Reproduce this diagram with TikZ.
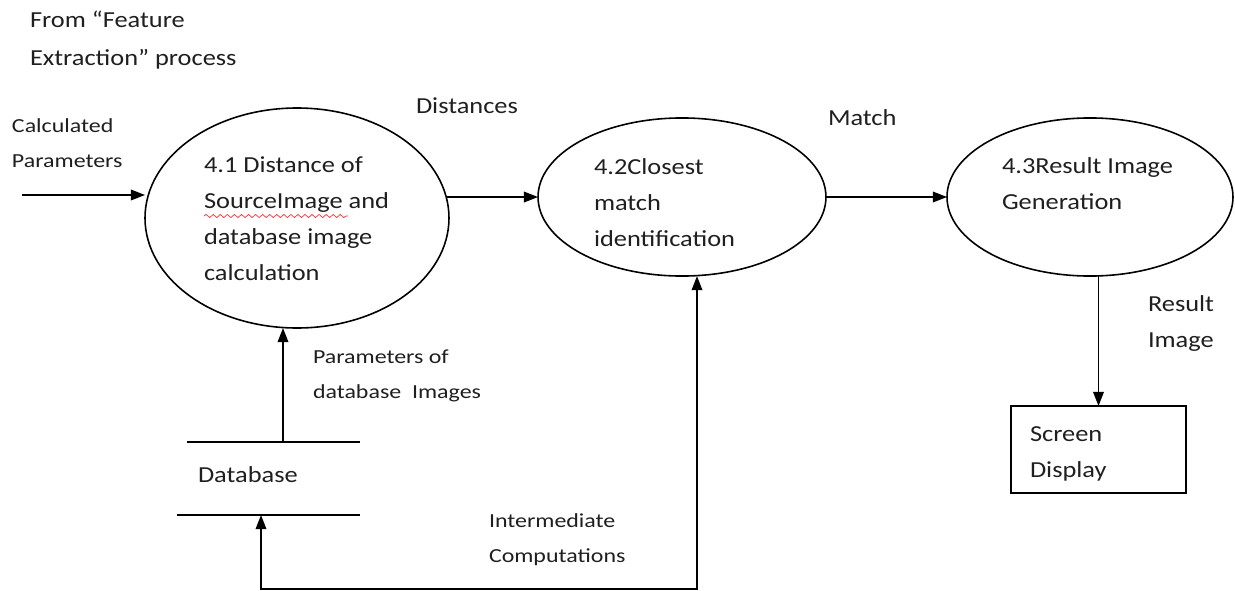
\documentclass[tikz,border=0pt]{standalone}
\usepackage{fontspec}
\setmainfont{Carlito}
\newfontfamily\mainlbl[FakeStretch=1.15]{Carlito}
\newfontfamily\smalllbl[FakeStretch=1.2]{Carlito}
\usetikzlibrary{shapes.geometric,arrows.meta,decorations.pathmorphing,calc}
\begin{document}
\begin{tikzpicture}[x=0.5668pt,y=-0.5668pt,
  every node/.style={inner sep=0pt,outer sep=0pt},
  % multi-line labels are placed by the baseline of their last line
  lbl/.style={anchor=base west,align=left,text=black!88,
    font=\mainlbl\fontsize{13}{20.4}\selectfont},
  slbl/.style={anchor=base west,align=left,text=black!88,
    font=\smalllbl\fontsize{11.3}{19.8}\selectfont},
  proc/.style={draw,ellipse,line width=0.9pt},
  store/.style={line width=0.9pt},
  tip/.style={Triangle[length=8pt,width=6pt]},
  flow/.style={line width=0.9pt,-{Triangle[length=8pt,width=6pt]}},
  twoway/.style={line width=0.9pt,{Triangle[length=8pt,width=6pt]}-{Triangle[length=8pt,width=6pt]}}
]
\useasboundingbox (0,0) rectangle (1235,591);

% processes
\node[proc,minimum width=172.3pt,minimum height=124.7pt] (p1) at (297,218) {};
\node[proc,minimum width=163.2pt,minimum height=89.6pt] (p2) at (682,197) {};
\node[proc,minimum width=162.1pt,minimum height=89.6pt] (p3) at (1090,197) {};

% process texts
\node[lbl] (t1) at (204,280) {4.1 Distance of\\SourceImage and\\database image\\calculation};
\node[lbl] (t2) at (594,246) {4.2Closest\\match\\identification};
\node[lbl] (t3) at (1002,209) {4.3Result Image\\Generation};
\draw[red!80,line width=0.4pt,decorate,decoration={snake,amplitude=0.9,segment length=4}]
  (204,216) -- (348,216);

% terminator
\node[draw,line width=0.9pt,minimum width=99.2pt,minimum height=49.3pt] (sd) at (1098.5,449.5) {};
\node[lbl] (tsd) at (1030,477) {Screen\\Display};

% data store
\coordinate (dbtl) at (187,442);
\coordinate (dbtr) at (360,442);
\coordinate (dbbl) at (177,515);
\coordinate (dbbr) at (360,515);
\draw[store] (dbtl) -- (dbtr);
\draw[store] (dbbl) -- (dbbr);
\node[lbl] (db) at (198,482) {Database};

% flow labels
\node[lbl,font=\mainlbl\fontsize{13}{21}\selectfont] (src) at (30,65) {From “Feature\\Extraction” process};
\node[slbl] (lcalc) at (12,167) {Calculated\\Parameters};
\node[lbl] (ldist) at (416,113) {Distances};
\node[lbl] (lmatch) at (828,125) {Match};
\node[lbl] (lres) at (1148,347) {Result\\Image};
\node[slbl] (lpar) at (313,398) {Parameters of\\database\ \ Images};
\node[slbl] (linter) at (489,562) {Intermediate\\Computations};

% flows
\coordinate (in) at (22,195);
\draw[flow] (in) -- (in -| p1.west);
\draw[flow] (p1.8.4) -- (p1.8.4 -| p2.west);
\draw[flow] (p2.east) -- (p3.west);
\draw[flow] (sd.north |- p3.south) -- (sd.north);
\coordinate (dbup) at (283,442);
\draw[flow] (dbup) -- (dbup |- p1.south);
\coordinate (dbin) at (261,515);
\coordinate (loopr) at (697,589);
\draw[twoway] (dbin) -- (dbin |- loopr) -- (loopr) -- (loopr |- p2.south);
\end{tikzpicture}
\end{document}
